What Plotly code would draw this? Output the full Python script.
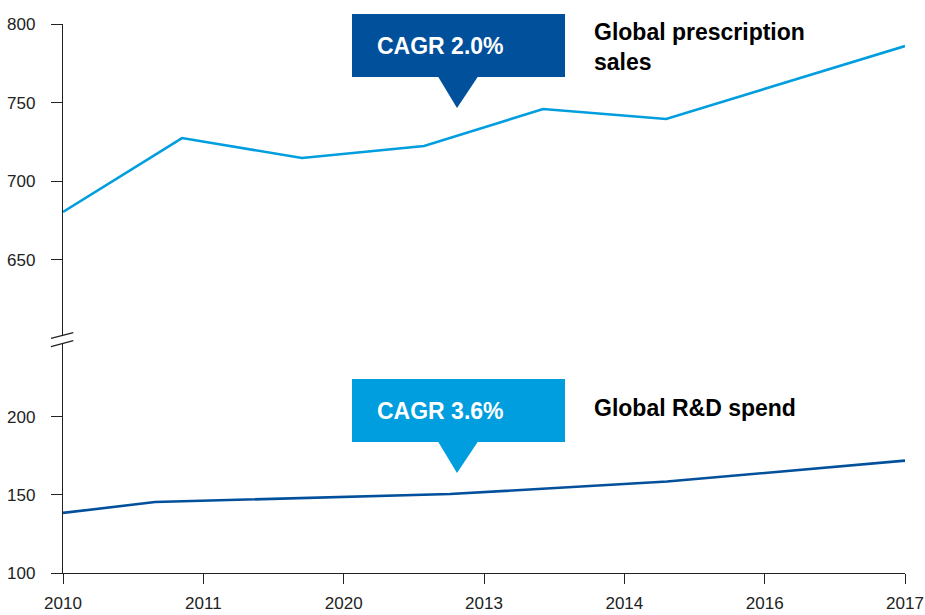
import plotly.graph_objects as go

# ---- data ----
tick_labels = ["2010", "2011", "2020", "2013", "2014", "2016", "2017"]
sales_x = [0, 0.848, 1.703, 2.573, 3.421, 4.298, 6]
sales_values = [680.5, 727.5, 714.8, 722.4, 746.0, 739.6, 786.0]
rd_x = [0, 0.656, 2.758, 4.304, 6]
rd_values = [138.5, 145.5, 150.6, 158.6, 172.0]
sales_label = "Global prescription<br>sales"
rd_label = "Global R&D spend"
sales_cagr = "CAGR 2.0%"
rd_cagr = "CAGR 3.6%"

LIGHT = "#009EDE"
DARK = "#00509B"
AX = "#222222"
FONT = "Liberation Sans, Arial, sans-serif"

# plot area in pixels: left 63, right 905, top 24, bottom 573
L, R, T, B = 63, 905, 24, 573
W, H = R - L, B - T


def px(x):
    return (x - L) / W


def py(y):
    return (B - y) / H


fig = go.Figure()
fig.add_trace(go.Scatter(x=sales_x, y=sales_values, mode="lines",
                         line=dict(color=LIGHT, width=2.6), xaxis="x", yaxis="y2",
                         hoverinfo="skip", showlegend=False))
fig.add_trace(go.Scatter(x=rd_x, y=rd_values, mode="lines",
                         line=dict(color=DARK, width=2.6), xaxis="x", yaxis="y",
                         hoverinfo="skip", showlegend=False))

tickfont = dict(family=FONT, size=17, color=AX)

fig.update_layout(
    width=925, height=615, autosize=False,
    margin=dict(l=L, r=925 - R, t=T, b=615 - B, autoexpand=False),
    paper_bgcolor="white", plot_bgcolor="white",
    xaxis=dict(range=[0, 6], tickvals=list(range(len(tick_labels))), ticktext=tick_labels,
               showgrid=False, zeroline=False, showline=True, linecolor=AX, linewidth=1.3,
               ticks="outside", ticklen=10, tickwidth=1.3, tickcolor=AX,
               tickfont=tickfont, anchor="y", automargin=False, ticklabelstandoff=4),
    yaxis=dict(domain=[0, py(343)], range=[100, 247.4], tickvals=[100, 150, 200],
               showgrid=False, zeroline=False, showline=True, linecolor=AX, linewidth=1.3,
               ticks="outside", ticklen=11, tickwidth=1.3, tickcolor=AX,
               tickfont=tickfont, anchor="x", automargin=False, ticklabelstandoff=12),
    yaxis2=dict(domain=[py(335), 1], range=[602.3, 800], tickvals=[650, 700, 750, 800],
                showgrid=False, zeroline=False, showline=True, linecolor=AX, linewidth=1.3,
                ticks="outside", ticklen=11, tickwidth=1.3, tickcolor=AX,
                tickfont=tickfont, anchor="x", automargin=False, ticklabelstandoff=12),
)

shapes = []
# axis break marks
for (y0, y1) in [(338.3, 332.7), (346.7, 340.7)]:
    shapes.append(dict(type="line", xref="paper", yref="paper",
                       x0=px(51), y0=py(y0), x1=px(73.3), y1=py(y1),
                       line=dict(color=AX, width=1.3)))


def callout(color, top, bottom, tip):
    shapes.append(dict(type="rect", xref="paper", yref="paper",
                       x0=px(352), x1=px(565), y0=py(bottom), y1=py(top),
                       fillcolor=color, line=dict(width=0), layer="above"))
    path = (f"M {px(438)},{py(bottom - 0.5)} L {px(478)},{py(bottom - 0.5)} "
            f"L {px(457)},{py(tip)} Z")
    shapes.append(dict(type="path", xref="paper", yref="paper", path=path,
                       fillcolor=color, line=dict(width=0), layer="above"))


callout(DARK, 14, 77, 108)
callout(LIGHT, 379, 442, 473)
fig.update_layout(shapes=shapes)

bold = dict(family=FONT, size=23, color="white")
lab = dict(family=FONT, size=23, color="black")
annotations = [
    dict(text=f"<b>{sales_cagr}</b>", x=px(375), y=py(46), xref="paper", yref="paper",
         xanchor="left", yanchor="middle", showarrow=False, font=bold),
    dict(text=f"<b>{rd_cagr}</b>", x=px(375), y=py(411), xref="paper", yref="paper",
         xanchor="left", yanchor="middle", showarrow=False, font=bold),
    dict(text=f"<b>{sales_label}</b>", x=px(592), y=py(46.5), xref="paper", yref="paper",
         xanchor="left", yanchor="middle", align="left", showarrow=False, font=lab),
    dict(text=f"<b>{rd_label}</b>", x=px(592), y=py(408), xref="paper", yref="paper",
         xanchor="left", yanchor="middle", align="left", showarrow=False, font=lab),
]
fig.update_layout(annotations=annotations)

post = ("document.body.style.margin='0';document.body.style.padding='0';"
        "document.body.style.overflow='hidden';"
        "document.documentElement.style.overflow='hidden';"
        "var gd=document.getElementById('{plot_id}');"
        "Plotly.relayout(gd,{width:925,height:615});")

fig.write_html("out.html", post_script=post,
               config={"responsive": False, "displayModeBar": False})
